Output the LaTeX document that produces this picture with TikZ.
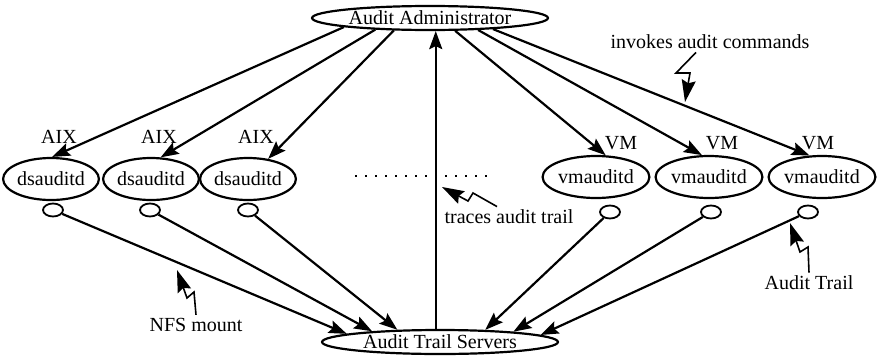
\documentclass[tikz,border=0pt]{standalone}
\usepackage{fontspec}
\setmainfont{Liberation Serif}
\usetikzlibrary{arrows.meta,shapes.geometric}

\begin{document}
\begin{tikzpicture}[x=0.5pt,y=-0.5pt,
        proc/.style = {draw, ellipse, line width=1.1pt, inner sep=0pt, minimum width=46pt, minimum height=21pt},
        host/.style = {draw, ellipse, line width=1.1pt, inner sep=0pt, minimum width=118pt, minimum height=12pt},
        port/.style = {draw, ellipse, line width=0.9pt, inner sep=0pt, minimum width=10pt, minimum height=6.5pt},
        tag/.style = {inner sep=1.5pt},
        arr/.style = {line width=1.1pt, -{Stealth[length=9pt,width=6.5pt,inset=1.5pt]}},
        bolt/.style = {line width=0.8pt, -{Stealth[length=11pt,width=7pt,inset=1.5pt]}},
        ]
        \useasboundingbox (0,0) rectangle (878,359);

        \node[host](admin) at (430,18) {Audit Administrator};
        \node[host](servers) at (440,342) {Audit Trail Servers};

        \node[proc](ds1) at (51,179) {dsauditd};
        \node[proc](ds2) at (151,179) {dsauditd};
        \node[proc](ds3) at (248,179) {dsauditd};
        \node[proc](vm1) at (596,177) {vmauditd};
        \node[proc](vm2) at (709,177) {vmauditd};
        \node[proc](vm3) at (822,177) {vmauditd};

        \node[tag](aix1) at (59,137) {AIX};
        \node[tag](aix2) at (159,137) {AIX};
        \node[tag](aix3) at (256,137) {AIX};
        \node[tag](os1) at (621,143) {VM};
        \node[tag](os2) at (722,143) {VM};
        \node[tag](os3) at (818,143) {VM};

        \node[port](p1) at (53,210) {};
        \node[port](p2) at (150,210) {};
        \node[port](p3) at (248,210) {};
        \node[port](p4) at (610,212) {};
        \node[port](p5) at (711,212) {};
        \node[port](p6) at (808,212) {};

        \draw[arr] (admin.186.7) -- (ds1.87);
        \draw[arr] (admin.192.9) -- (ds2.66.4);
        \draw[arr] (admin.199.9) -- (ds3.45.5);
        \draw[arr] (admin.-27.1) -- (vm1.66.5);
        \draw[arr] (admin.-14.9) -- (vm2.108.6);
        \draw[arr] (admin.-10.4) -- (vm3.120.3);

        \draw[arr] (p1) -- (servers.175.7);
        \draw[arr] (p2) -- (servers.171.3);
        \draw[arr] (p3) -- (servers.164.2);
        \draw[arr] (p4) -- (servers.15.8);
        \draw[arr] (p5) -- (servers.8.4);
        \draw[arr] (p6) -- (servers.4.3);

        \draw[arr] (servers.108) -- (servers.108 |- admin.south);

        \draw[line width=1pt, dash pattern=on 1pt off 4pt] (355,176) -- (490,176);

        \node[tag](invokes) at (710,42) {invokes audit commands};
        \node[tag](traces) at (509,217) {traces audit trail};
        \node[tag](nfs) at (196,325) {NFS mount};
        \node[tag](trail) at (809,283) {Audit Trail};

        \draw[bolt] ([xshift=-7pt]invokes.south) -- (676,73) -- (690,73) -- (685,102);
        \draw[bolt] ([xshift=-6pt]traces.north) -- (473,193) -- (468,201) -- (442,187);
        \draw[bolt] (nfs.north) -- (194,292) -- (187,298) -- (177,270);
        \draw[bolt] (trail.north) -- (808,247) -- (800,252) -- (790,223);
\end{tikzpicture}
\end{document}
